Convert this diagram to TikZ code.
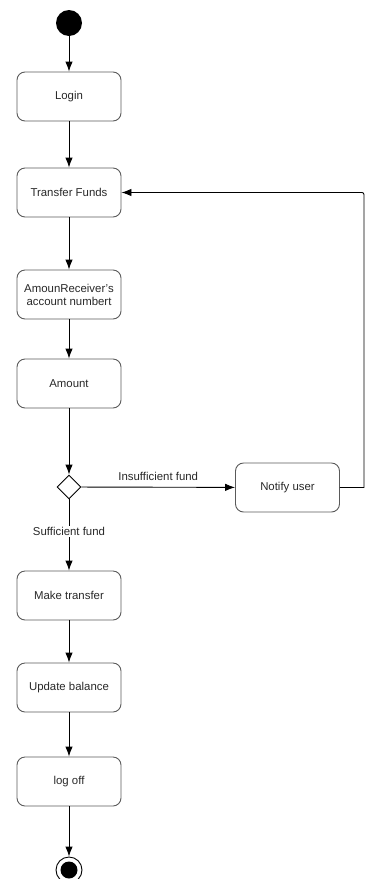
\documentclass[tikz,border=0pt]{standalone}
\usepackage{fontspec}
\setmainfont{Liberation Sans}
\usepackage{tikz}
\definecolor{boxgray}{RGB}{90,90,90}
\definecolor{textgray}{RGB}{40,40,40}
\usetikzlibrary{arrows.meta, shapes.geometric, positioning}

\begin{document}
\begin{tikzpicture}[x=1pt, y=-1pt,
					>={Latex[length=10pt,width=7.5pt]},   %Pfeilspitzen
					font=\fontsize{11.4}{13}\selectfont, text=textgray,
					activity/.style={draw=boxgray, line width=0.9pt, rounded corners=8pt, minimum width=104pt, minimum height=49pt, align=center, inner sep=1pt},
					decision/.style={draw=black, line width=0.9pt, diamond, minimum size=24pt, inner sep=0pt},
					flow/.style={->, line width=0.9pt},
					guard/.style={font=\fontsize{11.4}{13}\selectfont}]
					% Bildbereich
					\useasboundingbox (0,0) rectangle (371,879);
					% Start und Ende
					\node[circle, fill=black, minimum size=26pt, inner sep=0pt] (start) at (69,23) {};
					\node[circle, draw=black, line width=0.9pt, minimum size=26pt, inner sep=0pt] (stop) at (69,870) {};
					\fill[black] (stop.center) circle (8.5pt);
					% Aktivitaeten
					\node[activity] (login)    at (69,96.5)  {Login};
					\node[activity] (transfer) at (69,192.5) {Transfer Funds};
					\node[activity] (receiver) at (69,294.5) {AmounReceiver's\\account numbert};
					\node[activity] (amount)   at (69,383.5) {Amount};
					\node[decision] (check)    at (69,487)   {};
					\node[activity] (notify)   at (287.5,487.5) {Notify user};
					\node[activity] (make)     at (69,595.5) {Make transfer};
					\node[activity] (update)   at (69,687.5) {Update balance};
					\node[activity] (logoff)   at (69,781.5) {log off};
					% Kanten
					\draw[flow] (start) -- (login);
					\draw[flow] (login) -- (transfer);
					\draw[flow] (transfer) -- (receiver);
					\draw[flow] (receiver) -- (amount);
					\draw[flow] (amount) -- (check);
					\draw[flow] (check) -- node[above=3pt, guard] {Insufficient fund} (notify);
					\draw[flow] (notify.east) -- ++(24,0) [rounded corners=2pt] |- (transfer.east);
					\draw[flow] (check) -- node[fill=white, inner sep=1pt, pos=0.45, guard] {Sufficient fund} (make);
					\draw[flow] (make) -- (update);
					\draw[flow] (update) -- (logoff);
					\draw[flow] (logoff) -- (stop);
				\end{tikzpicture}
\end{document}
